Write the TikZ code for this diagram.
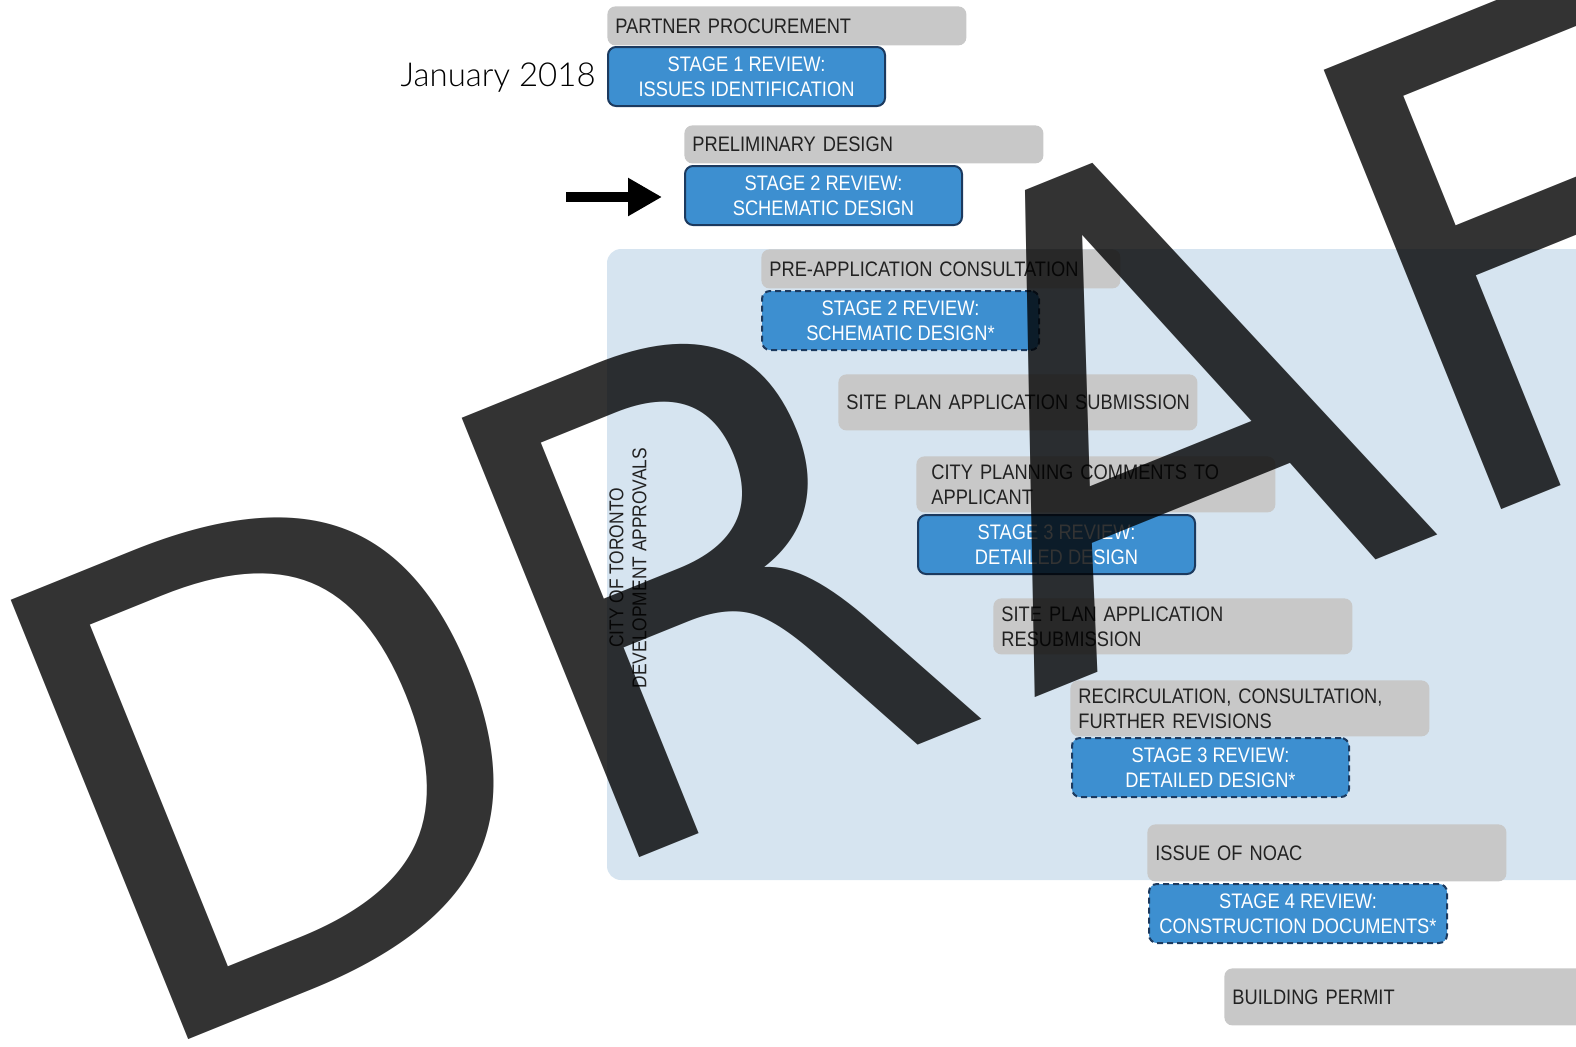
\documentclass[tikz,border=0pt]{standalone}
\usepackage{fontspec}
\usepackage{xcolor}
\usepackage{tikz}
\usetikzlibrary{arrows.meta}
\newfontfamily\boxfont{Liberation Sans}[FakeStretch=0.87]
\newfontfamily\datefont{Lato}[UprightFont={* Light}]
\newfontfamily\markfont{DejaVu Sans}
\definecolor{phasegray}{RGB}{200, 200, 200}
\definecolor{reviewblue}{RGB}{61, 143, 208}
\definecolor{reviewedge}{RGB}{28, 58, 95}
\definecolor{panelblue}{RGB}{214, 228, 240}
\definecolor{textdark}{RGB}{34, 34, 34}

\tikzset{
    phase/.style={fill=phasegray, rounded corners=4pt, anchor=north west,
        minimum width=179.5pt, text width=171.5pt, inner xsep=4pt, inner ysep=0pt,
        align=left, text=textdark, font=\boxfont\fontsize{10.5pt}{12.5pt}\selectfont},
    review/.style={fill=reviewblue, draw=reviewedge, line width=1pt, rounded corners=4pt,
        anchor=north west, minimum width=138.5pt, minimum height=29.5pt, inner sep=0pt,
        align=center, text=white, font=\boxfont\fontsize{10.5pt}{12.5pt}\selectfont},
    proposed/.style={review, dash pattern=on 3pt off 2pt},
    pointer/.style={line width=5pt, -{Triangle[length=17pt, width=18pt]}},
    watermark/.style={inner sep=0pt, anchor=base west, rotate=22, text=black,
        text opacity=0.8, font=\markfont\fontsize{325pt}{325pt}\selectfont}
}

\begin{document}
\begin{tikzpicture}[x=0.5pt, y=-0.5pt]
    \useasboundingbox (0,0) rectangle (1576,1046);
    \clip (0,0) rectangle (1576,1046);

    % city approvals panel
    \fill[panelblue, rounded corners=7pt] (607,249) rectangle (1620,880);
    \node[rotate=90, align=center, text=textdark,
        font=\boxfont\fontsize{10pt}{11.5pt}\selectfont] (city) at (628,568)
        {CITY OF TORONTO\\DEVELOPMENT APPROVALS};

    \node[anchor=east, inner sep=0pt, font=\datefont\fontsize{16.5pt}{16.5pt}\selectfont] (date) at (596,78) {January 2018};

    \node[phase, minimum height=19.5pt] (procure) at (607,6) {PARTNER PROCUREMENT};
    \node[review] (stageone) at (607,46) {STAGE 1 REVIEW:\\ISSUES IDENTIFICATION};

    \node[phase, minimum height=19pt] (prelim) at (684,125) {PRELIMINARY DESIGN};
    \node[review] (stagetwo) at (684,165) {STAGE 2 REVIEW:\\SCHEMATIC DESIGN};

    \node[phase, minimum height=19.5pt] (preapp) at (761,249) {PRE-APPLICATION CONSULTATION};
    \node[proposed] (stagetwob) at (761,290) {STAGE 2 REVIEW:\\SCHEMATIC DESIGN*};

    \node[phase, minimum height=28pt] (submit) at (838,374) {\mbox{SITE PLAN APPLICATION SUBMISSION}};

    \node[phase, minimum height=28pt, text width=164.5pt, inner xsep=7.5pt] (comments) at (916,456) {CITY PLANNING COMMENTS TO\\APPLICANT};
    \node[review] (stagethree) at (917,514) {STAGE 3 REVIEW:\\DETAILED DESIGN};

    \node[phase, minimum height=28pt] (resubmit) at (993,598) {SITE PLAN APPLICATION\\RESUBMISSION};

    \node[phase, minimum height=28pt] (recirc) at (1070,680) {RECIRCULATION, CONSULTATION,\\FURTHER REVISIONS};
    \node[proposed] (stagethreeb) at (1071,737) {STAGE 3 REVIEW:\\DETAILED DESIGN*};

    \node[phase, minimum height=28.5pt] (noac) at (1147,824) {ISSUE OF NOAC};
    \node[proposed, minimum width=149pt] (stagefour) at (1148,883) {STAGE 4 REVIEW:\\CONSTRUCTION DOCUMENTS*};

    \node[phase, minimum height=28.5pt] (permit) at (1224,968) {BUILDING PERMIT};

    % current stage marker
    \coordinate (marker) at (566,197);
    \draw[pointer] (marker) -- ([xshift=-11pt]stagetwo.west |- marker);

    \node[watermark] (draft) at (129,1064) {D\kern-7ptR\kern17ptAF};
\end{tikzpicture}
\end{document}
